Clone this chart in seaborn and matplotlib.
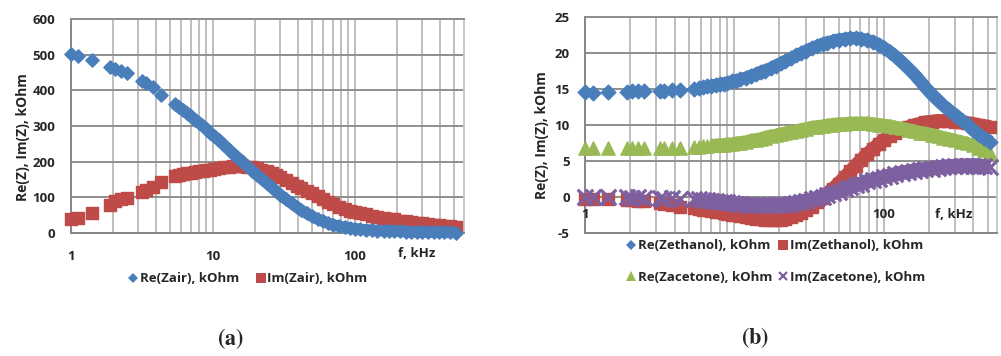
import numpy as np
import pandas as pd
import matplotlib
matplotlib.use("Agg")
import matplotlib.pyplot as plt
import seaborn as sns
from matplotlib.lines import Line2D
from matplotlib.ticker import FixedLocator, LogLocator, NullFormatter, MultipleLocator

# ---------------- data ----------------
freq_khz = [1.0, 1.13, 1.42, 1.9, 2.05, 2.25, 2.5, 3.16, 3.4, 3.8, 4.35,
            5.4, 5.8, 6.2, 6.6, 7.0, 7.5, 8.0, 8.5, 9.0, 9.6,
            10.2, 11, 12, 13, 14, 15, 16, 17.5, 19, 20.5,
            22, 24, 26, 28, 30, 33, 36, 39, 42, 46,
            50, 55, 60, 65, 71, 78, 85, 93, 100, 110,
            120, 132, 145, 160, 175, 190, 210, 230, 250, 275,
            300, 330, 360, 395, 430, 470, 520]

re_air = [502, 497, 485, 466, 461, 455, 449, 427, 420, 409, 388,
          362, 352, 344, 336, 327, 318, 309, 301, 292, 281,
          272, 261, 247, 234, 222, 211, 201, 188, 175, 163,
          153, 140, 128, 117, 107, 94, 83, 73, 64, 55,
          47, 39, 33, 28, 23, 19, 16, 14, 12, 10,
          9, 8, 7, 6, 5.5, 5, 4.5, 4, 3.5, 3,
          2.8, 2.5, 2.2, 2, 1.8, 1.5, 1.2]

im_air = [38, 41, 56, 79, 89, 94, 99, 116, 121, 130, 144,
          160, 163, 165, 167, 169, 171, 173, 175, 176, 178,
          180, 182, 184, 186, 187, 187, 187, 186, 184, 181,
          178, 173, 167, 162, 157, 149, 141, 133, 126, 118,
          111, 103, 95, 88, 81, 74, 68, 63, 60, 56,
          52, 48, 45, 42, 40, 38, 35, 33, 31, 29,
          27, 25, 23, 22, 21, 19, 18]

re_ethanol = [14.6, 14.5, 14.6, 14.6, 14.7, 14.7, 14.7, 14.8, 14.8, 14.9, 14.9,
              15.1, 15.2, 15.3, 15.4, 15.5, 15.6, 15.7, 15.8, 15.9, 16.1,
              16.2, 16.4, 16.6, 16.9, 17.1, 17.4, 17.6, 17.9, 18.3, 18.6,
              18.9, 19.3, 19.7, 20.0, 20.3, 20.7, 21.0, 21.3, 21.5, 21.7,
              21.9, 22.0, 22.1, 22.1, 22.0, 21.8, 21.6, 21.2, 20.8, 20.2,
              19.6, 18.8, 18.0, 17.1, 16.2, 15.3, 14.3, 13.5, 12.8, 12.1,
              11.5, 10.8, 10.2, 9.4, 8.8, 8.2, 7.7]

im_ethanol = [-0.2, -0.2, -0.3, -0.4, -0.4, -0.5, -0.5, -0.8, -0.9, -1.1, -1.3,
              -1.5, -1.6, -1.7, -1.8, -1.9, -2.0, -2.1, -2.2, -2.3, -2.4,
              -2.5, -2.6, -2.8, -2.9, -3.0, -3.05, -3.1, -3.15, -3.15, -3.1,
              -3.0, -2.8, -2.5, -2.2, -1.8, -1.3, -0.7, -0.1, 0.5, 1.2,
              1.9, 2.8, 3.6, 4.4, 5.2, 6.0, 6.7, 7.4, 7.9, 8.5,
              9.0, 9.4, 9.7, 10.0, 10.2, 10.4, 10.5, 10.6, 10.6, 10.6,
              10.5, 10.4, 10.3, 10.2, 10.0, 9.9, 9.7]

re_acetone = [6.9, 6.9, 6.8, 6.9, 6.9, 6.8, 6.9, 6.9, 6.9, 6.9, 6.9,
              7.0, 7.0, 7.1, 7.1, 7.2, 7.2, 7.3, 7.3, 7.4, 7.4,
              7.5, 7.6, 7.7, 7.9, 8.0, 8.1, 8.3, 8.5, 8.6, 8.8,
              8.9, 9.1, 9.2, 9.4, 9.5, 9.7, 9.8, 9.9, 10.0, 10.1,
              10.2, 10.2, 10.3, 10.3, 10.3, 10.3, 10.2, 10.1, 10.0, 9.9,
              9.7, 9.6, 9.4, 9.2, 9.0, 8.9, 8.7, 8.5, 8.3, 8.1,
              7.9, 7.7, 7.5, 7.2, 6.9, 6.6, 6.2]

im_acetone = [0.1, 0.1, 0.0, 0.0, -0.1, 0.0, -0.1, -0.1, -0.2, -0.1, -0.2,
              -0.3, -0.3, -0.4, -0.4, -0.5, -0.5, -0.6, -0.7, -0.7, -0.8,
              -0.9, -0.9, -1.0, -1.0, -1.1, -1.1, -1.1, -1.1, -1.1, -1.0,
              -1.0, -0.9, -0.8, -0.6, -0.5, -0.3, -0.1, 0.1, 0.3, 0.6,
              0.8, 1.1, 1.4, 1.7, 1.9, 2.2, 2.4, 2.6, 2.8, 3.0,
              3.2, 3.4, 3.5, 3.7, 3.8, 3.9, 4.0, 4.1, 4.2, 4.3,
              4.3, 4.4, 4.4, 4.4, 4.4, 4.3, 4.2]

x_ticks = [1, 10, 100]
x_tick_labels = ["1", "10", "100"]
labels_a = ["Re(Zair), kOhm", "Im(Zair), kOhm"]
labels_b = ["Re(Zethanol), kOhm", "Im(Zethanol), kOhm",
            "Re(Zacetone), kOhm", "Im(Zacetone), kOhm"]
y_label = "Re(Z), Im(Z), kOhm"
x_unit = "f, kHz"

BLUE, RED, GREEN, PURPLE = "#4a7ebb", "#be4b48", "#98b954", "#7d60a0"

# ---------------- style ----------------
sns.set_theme(style="white")
plt.rcParams["font.family"] = ["Open Sans", "DejaVu Sans"]
plt.rcParams["font.weight"] = "bold"
plt.rcParams["axes.unicode_minus"] = False
plt.rcParams["mathtext.fontset"] = "stix"

W, H = 1001, 356
fig = plt.figure(figsize=(W / 100, H / 100), dpi=100)
axA = fig.add_axes([70.7 / W, 1 - 233 / H, 393.3 / W, 214 / H])
axB = fig.add_axes([585 / W, 1 - 233.3 / H, 412 / W, 216 / H])

GRID_V = "#b3b3b3"
GRID_H = "#8e8e8e"
FS = 9.5


def series(ax, vals, color, marker, size, band_lw, dense_from, z):
    """Markers for every reading; the densely sampled part merges into a band."""
    df = pd.DataFrame({"f": freq_khz, "v": vals})
    dense = df.iloc[dense_from:]
    sns.lineplot(data=dense, x="f", y="v", ax=ax, color=color, lw=band_lw,
                 estimator=None, sort=True, legend=False, zorder=z,
                 solid_capstyle="butt", solid_joinstyle="round", clip_on=False)
    if marker == "x":
        sns.scatterplot(data=df, x="f", y="v", ax=ax, marker="x", s=size,
                        color=color, linewidth=2.3, zorder=z + 0.5, legend=False,
                        clip_on=False)
    else:
        sns.scatterplot(data=df, x="f", y="v", ax=ax, marker=marker, s=size,
                        color=color, edgecolor=color, linewidth=1.0, zorder=z + 0.5,
                        legend=False, clip_on=False)


def style_axes(ax, xmax):
    ax.set_xscale("log")
    ax.set_xlim(1, xmax)
    ax.xaxis.set_major_locator(FixedLocator(x_ticks))
    ax.xaxis.set_minor_locator(LogLocator(base=10, subs=np.arange(2, 10), numticks=20))
    ax.xaxis.set_minor_formatter(NullFormatter())
    ax.set_axisbelow(True)
    ax.grid(True, which="both", axis="x", color=GRID_V, lw=1.2)
    ax.grid(True, which="major", axis="y", color=GRID_H, lw=1.4)
    ax.tick_params(axis="x", which="minor", length=0)
    ax.tick_params(axis="y", which="major", length=4, width=1.2, color="#8e8e8e",
                   direction="out", pad=7, labelsize=FS)
    ax.spines["top"].set_color(GRID_H)
    ax.spines["top"].set_linewidth(1.4)
    ax.spines["right"].set_color("#c8c8c8")
    ax.spines["right"].set_linewidth(1.4)
    ax.spines["left"].set_color("#868686")
    ax.spines["left"].set_linewidth(1.4)
    ax.spines["bottom"].set_color("#868686")
    ax.spines["bottom"].set_linewidth(1.4)
    ax.set_xlabel("")
    ax.set_ylabel(y_label, fontsize=10, fontweight="bold")


# ---------------- panel (a) ----------------
series(axA, im_air, RED, "s", 64, 8.0, 11, 3)
series(axA, re_air, BLUE, "D", 46, 8.2, 11, 4)
style_axes(axA, 590)
axA.set_ylim(0, 600)
axA.yaxis.set_major_locator(MultipleLocator(100))
axA.set_xticks(x_ticks, x_tick_labels)
axA.tick_params(axis="x", which="major", length=4, width=1.2, color="#868686",
                direction="out", pad=8, labelsize=FS)
axA.text(275, -0.0935, x_unit, transform=axA.get_xaxis_transform(),
         ha="center", va="center", fontsize=FS, fontweight="bold")
axA.yaxis.set_label_coords(-0.103, 0.449)

# ---------------- panel (b) ----------------
series(axB, im_ethanol, RED, "s", 85, 10.0, 13, 3)
series(axB, re_acetone, GREEN, "^", 90, 9.5, 15, 4)
series(axB, im_acetone, PURPLE, "x", 125, 10.5, 15, 5)
series(axB, re_ethanol, BLUE, "D", 56, 9.0, 15, 6)
style_axes(axB, 575)
axB.set_ylim(-5, 25)
axB.yaxis.set_major_locator(MultipleLocator(5))
axB.set_xticks(x_ticks, x_tick_labels)
axB.tick_params(axis="x", which="major", length=0, labelbottom=False)
for xv, lab in zip(x_ticks, x_tick_labels):
    axB.text(xv, -2.45, lab, ha="center", va="center", fontsize=FS, fontweight="bold")
axB.text(294, -2.45, x_unit, ha="center", va="center", fontsize=FS, fontweight="bold")
axB.yaxis.set_label_coords(-0.087, 0.455)

# ---------------- legends ----------------
def handle(color, marker, ms):
    if marker == "x":
        return Line2D([], [], ls="", marker="x", color=color, ms=ms, mew=1.6)
    return Line2D([], [], ls="", marker=marker, color=color, ms=ms, mew=0)

hA = [handle(BLUE, "D", 5), handle(RED, "s", 6.5)]
fig.legend(hA, labels_a, loc="center", bbox_to_anchor=(248 / W, 1 - 279 / H),
           ncol=2, frameon=False, fontsize=FS, handlelength=0.7,
           handletextpad=0.15, columnspacing=1.3, borderpad=0)

hB = [handle(BLUE, "D", 5), handle(GREEN, "^", 6.5),
      handle(RED, "s", 6.5), handle(PURPLE, "x", 6)]
labB = [labels_b[0], labels_b[2], labels_b[1], labels_b[3]]
fig.legend(hB, labB, loc="center", bbox_to_anchor=(776 / W, 1 - 261.5 / H),
           ncol=2, frameon=False, fontsize=FS, handlelength=0.7,
           handletextpad=0.15, columnspacing=0.5, labelspacing=1.4, borderpad=0)

# ---------------- captions ----------------
fig.text(230 / W, 1 - 339 / H, r"$(\mathbf{a})$", ha="center", va="center", fontsize=16)
fig.text(755 / W, 1 - 338 / H, r"$(\mathbf{b})$", ha="center", va="center", fontsize=16)

fig.savefig("out.png", dpi=100, facecolor="white")
